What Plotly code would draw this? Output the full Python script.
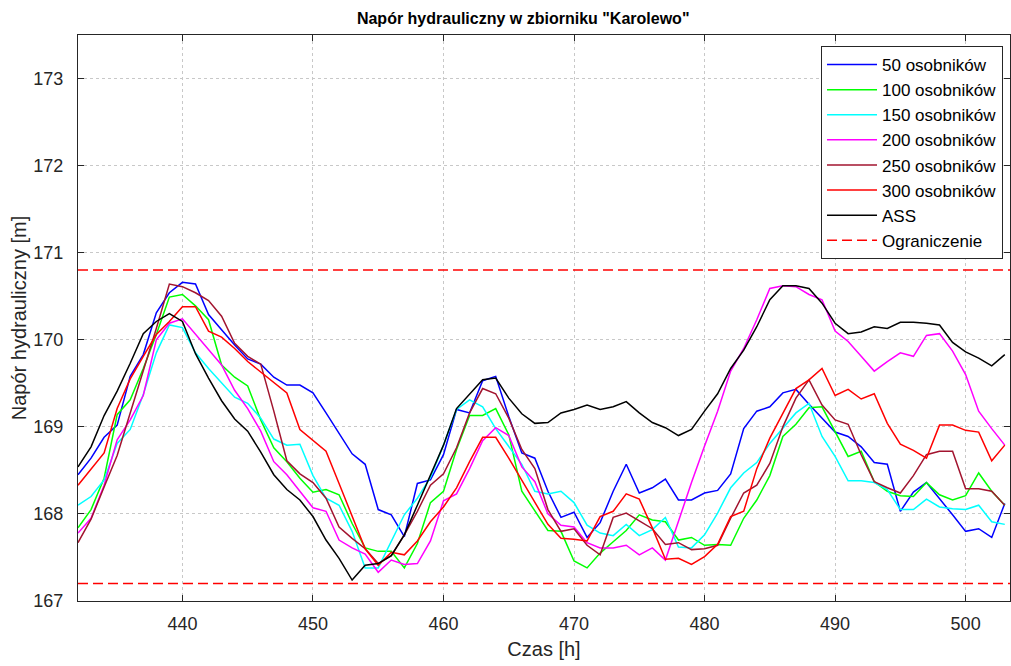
import plotly.graph_objects as go

hours = list(range(432, 504))

s50 = [168.45, 168.64, 168.88, 169.02, 169.58, 169.83, 170.31, 170.54, 170.66, 170.64, 170.29, 170.11, 169.94,
       169.78, 169.72, 169.57, 169.48, 169.48, 169.39, 169.16, 168.93, 168.69, 168.57, 168.05, 167.99,
       167.74, 168.35, 168.39, 168.68, 169.20, 169.16, 169.53, 169.58, 169.12, 168.70, 168.64, 168.26,
       167.96, 168.02, 167.73, 167.90, 168.26, 168.57, 168.24, 168.30, 168.40, 168.16, 168.16, 168.24,
       168.27, 168.46, 168.98, 169.18, 169.23, 169.39, 169.43, 169.26, 169.10, 168.94, 168.89, 168.77,
       168.59, 168.57, 168.03, 168.25, 168.36, 168.18, 167.99, 167.80, 167.83, 167.73, 168.12]
s100 = [167.84, 168.05, 168.41, 169.14, 169.31, 169.67, 170.06, 170.49, 170.52, 170.39, 170.23, 169.71, 169.57,
        169.47, 169.08, 168.76, 168.60, 168.41, 168.25, 168.28, 168.22, 167.89, 167.61, 167.57, 167.57,
        167.38, 167.66, 168.13, 168.26, 168.74, 169.13, 169.13, 169.21, 168.91, 168.26, 168.03, 167.81,
        167.80, 167.46, 167.38, 167.55, 167.68, 167.81, 167.99, 167.93, 167.91, 167.70, 167.73, 167.64,
        167.65, 167.64, 167.95, 168.16, 168.44, 168.89, 169.03, 169.22, 169.23, 168.95, 168.66, 168.72,
        168.37, 168.26, 168.21, 168.20, 168.36, 168.22, 168.16, 168.21, 168.47, 168.26, 168.10]
s150 = [168.10, 168.20, 168.39, 168.81, 168.97, 169.37, 169.85, 170.17, 170.14, 169.85, 169.67, 169.50, 169.34,
        169.27, 169.10, 168.86, 168.79, 168.80, 168.44, 168.18, 168.10, 167.80, 167.38, 167.38, 167.68,
        167.99, 168.18, 168.42, 168.79, 169.20, 169.31, 169.23, 168.98, 168.77, 168.57, 168.26, 168.23,
        168.26, 168.13, 167.87, 167.78, 167.75, 167.88, 167.75, 167.82, 167.96, 167.62, 167.61, 167.76,
        168.01, 168.30, 168.47, 168.59, 168.81, 168.98, 169.16, 169.27, 168.89, 168.66, 168.38, 168.38,
        168.36, 168.28, 168.05, 168.05, 168.17, 168.08, 168.06, 168.05, 168.10, 167.91, 167.88]
s200 = [167.78, 167.95, 168.33, 168.85, 169.08, 169.36, 170.00, 170.19, 170.24, 170.06, 169.89, 169.71, 169.42,
        169.21, 168.95, 168.60, 168.45, 168.26, 168.07, 168.03, 167.70, 167.61, 167.54, 167.33, 167.47,
        167.42, 167.43, 167.69, 168.15, 168.23, 168.52, 168.84, 168.99, 168.90, 168.54, 168.37, 168.00,
        167.87, 167.85, 167.67, 167.61, 167.61, 167.64, 167.53, 167.61, 167.47, 167.92, 168.36, 168.78,
        169.18, 169.64, 169.90, 170.23, 170.59, 170.62, 170.61, 170.52, 170.46, 170.10, 169.98, 169.81,
        169.64, 169.75, 169.85, 169.81, 170.05, 170.07, 169.87, 169.60, 169.18, 168.98, 168.79]
s250 = [167.67, 167.94, 168.31, 168.67, 169.16, 169.64, 170.13, 170.64, 170.61, 170.54, 170.45, 170.27, 169.96,
        169.81, 169.72, 169.18, 168.61, 168.46, 168.36, 168.18, 167.85, 167.72, 167.60, 167.43, 167.52,
        167.76, 168.03, 168.33, 168.46, 168.76, 169.16, 169.44, 169.38, 169.10, 168.74, 168.52, 168.05,
        167.80, 167.83, 167.64, 167.53, 167.96, 168.01, 167.92, 167.83, 167.65, 167.67, 167.59, 167.60,
        167.64, 167.95, 168.24, 168.33, 168.58, 169.00, 169.33, 169.54, 169.25, 169.08, 169.03, 168.68,
        168.37, 168.30, 168.24, 168.44, 168.68, 168.72, 168.72, 168.29, 168.29, 168.26, 168.10]
s300 = [168.33, 168.52, 168.70, 169.21, 169.55, 169.81, 170.06, 170.21, 170.38, 170.38, 170.10, 170.03, 169.90,
        169.75, 169.63, 169.50, 169.39, 168.97, 168.84, 168.72, 168.35, 167.97, 167.60, 167.41, 167.56,
        167.53, 167.69, 167.91, 168.08, 168.30, 168.60, 168.88, 168.88, 168.64, 168.39, 168.14, 167.88,
        167.72, 167.71, 167.69, 167.97, 168.03, 168.23, 168.17, 167.84, 167.48, 167.49, 167.42, 167.51,
        167.65, 167.97, 168.03, 168.52, 168.87, 169.16, 169.44, 169.54, 169.67, 169.36, 169.43, 169.32,
        169.38, 169.04, 168.80, 168.73, 168.64, 169.02, 169.02, 168.96, 168.94, 168.61, 168.79]
ass = [168.54, 168.77, 169.13, 169.41, 169.73, 170.07, 170.21, 170.30, 170.21, 169.84, 169.56, 169.30, 169.09,
       168.95, 168.71, 168.45, 168.28, 168.16, 167.97, 167.70, 167.49, 167.24, 167.41, 167.43, 167.52,
       167.76, 168.10, 168.45, 168.79, 169.21, 169.37, 169.54, 169.56, 169.33, 169.15, 169.04, 169.05,
       169.16, 169.20, 169.25, 169.20, 169.23, 169.29, 169.16, 169.05, 168.99, 168.90, 168.97, 169.18,
       169.38, 169.67, 169.88, 170.15, 170.46, 170.62, 170.62, 170.59, 170.42, 170.19, 170.07, 170.09,
       170.15, 170.13, 170.20, 170.20, 170.19, 170.17, 169.97, 169.86, 169.79, 169.70, 169.83]

limit_low = 167.2
limit_high = 170.8
x_range = [432, 503.4]
y_range = [167, 173.5]
x_ticks = [440, 450, 460, 470, 480, 490, 500]
y_ticks = [167, 168, 169, 170, 171, 172, 173]

series = [
    ("50 osobników", s50, "#0000FF"),
    ("100 osobników", s100, "#00FF00"),
    ("150 osobników", s150, "#00FFFF"),
    ("200 osobników", s200, "#FF00FF"),
    ("250 osobników", s250, "#A2142F"),
    ("300 osobników", s300, "#FF0000"),
    ("ASS", ass, "#000000"),
]

FONT = "Liberation Sans, Arial, Helvetica, sans-serif"

fig = go.Figure()
for i, (name, vals, col) in enumerate(series):
    fig.add_trace(go.Scatter(x=hours, y=vals, mode="lines", name=name,
                             line=dict(color=col, width=1.5), legendgroup=f"g{i}"))

fig.add_trace(go.Scatter(
    x=[x_range[0], x_range[1], None, x_range[0], x_range[1]],
    y=[limit_high, limit_high, None, limit_low, limit_low],
    mode="lines", name="Ograniczenie", legendgroup="glim",
    line=dict(color="#FF0000", width=1.5, dash="10px,5px")))

axis_common = dict(
    showline=True, linecolor="#262626", linewidth=1, mirror="ticks",
    ticks="inside", ticklen=6, tickcolor="#262626",
    showgrid=True, gridcolor="#c8c8c8", griddash="dot", gridwidth=1,
    zeroline=False, automargin=False,
    tickfont=dict(family=FONT, size=18, color="#262626"),
    title_font=dict(family=FONT, size=20, color="#262626"),
)

fig.update_layout(
    width=1011, height=666,
    margin=dict(l=78, r=1, t=35, b=65),
    paper_bgcolor="white", plot_bgcolor="white",
    title=dict(text='<b>Napór hydrauliczny w zbiorniku "Karolewo"</b>',
               x=0.5175, xref="container", xanchor="center",
               y=1 - 18 / 666, yref="container", yanchor="middle",
               font=dict(family=FONT, size=16, color="#000000")),
    xaxis=dict(range=x_range, tickvals=x_ticks, title=dict(text="Czas [h]", standoff=9),
               ticklabelstandoff=6, **axis_common),
    yaxis=dict(range=y_range, tickvals=y_ticks, title=dict(text="Napór hydrauliczny [m]", standoff=1),
               ticklabelstandoff=10, **axis_common),
    legend=dict(x=0.9925, y=0.9806, xanchor="right", yanchor="top",
                bgcolor="white", bordercolor="#262626", borderwidth=1,
                font=dict(family=FONT, size=17, color="#000000"),
                tracegroupgap=0, traceorder="grouped", itemwidth=50),
    showlegend=True,
)

fig.write_html("out.html", config={"displayModeBar": False},
               post_script="document.body.style.margin='0';")
